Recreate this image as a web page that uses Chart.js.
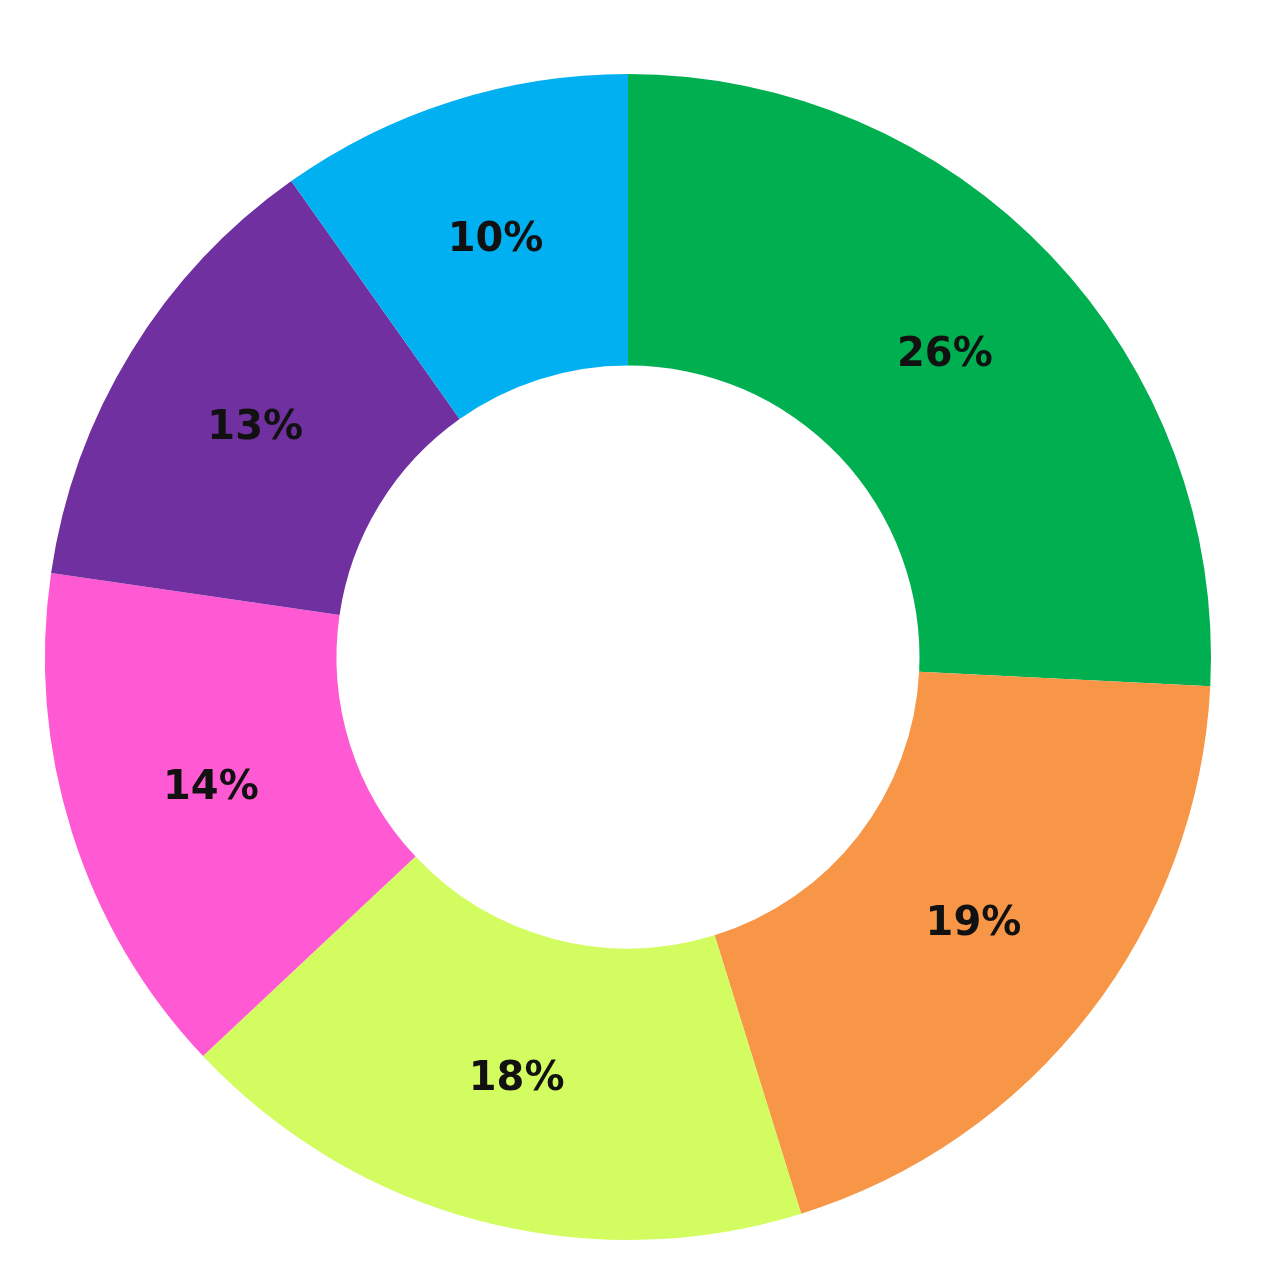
<!DOCTYPE html>
<html>
<head>
<meta charset="utf-8">
<style>
  html, body { margin: 0; padding: 0; background: #fff; }
  #wrap { width: 1280px; height: 1280px; }
</style>
<script src="https://cdn.jsdelivr.net/npm/chart.js@4/dist/chart.umd.min.js"></script>
</head>
<body>
<div id="wrap"><canvas id="donut" width="1280" height="1280"></canvas></div>
<script>
const categories = ['A', 'B', 'C', 'D', 'E', 'F'];
const shares = [25.8, 19.4, 17.8, 14.3, 12.9, 9.8];
const sliceColors = ['#00B050', '#F79646', '#D2FC60', '#FF5AD4', '#7030A0', '#00B0F0'];

// draw the percent text in the middle of each arc
const sliceLabels = {
    id: 'sliceLabels',
    afterDatasetsDraw(chart) {
        const c = chart.ctx;
        const meta = chart.getDatasetMeta(0);
        c.save();
        c.font = 'bold 40px "DejaVu Sans", Verdana, sans-serif';
        c.fillStyle = '#111';
        c.textAlign = 'center';
        c.textBaseline = 'middle';
        meta.data.forEach((arc, i) => {
            const p = arc.tooltipPosition();
            c.fillText(Math.round(shares[i]) + '%', p.x, p.y);
        });
        c.restore();
    }
};

new Chart(document.getElementById('donut').getContext('2d'), {
    type: 'doughnut',
    data: {
        labels: categories,
        datasets: [{
            data: shares,
            backgroundColor: sliceColors,
            borderWidth: 0
        }]
    },
    options: {
        responsive: false,
        animation: false,
        cutout: '50%',
        layout: {
            padding: { left: 45, right: 69, top: 74, bottom: 40 }
        },
        plugins: {
            legend: { display: false },
            tooltip: { enabled: false }
        }
    },
    plugins: [sliceLabels]
});
</script>
</body>
</html>
